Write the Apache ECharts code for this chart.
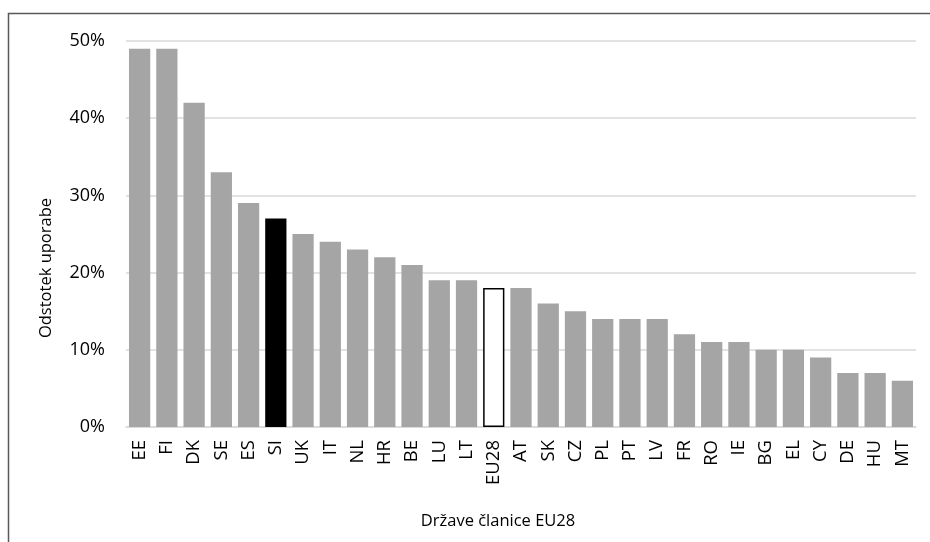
<!DOCTYPE html>
<html><head><meta charset="utf-8">
<script src="https://cdn.jsdelivr.net/npm/echarts@6/dist/echarts.min.js"></script>
<style>html,body{margin:0;padding:0;background:#fff}#c{width:930px;height:542px}</style>
</head><body><div id="c"></div>
<script>
const categories = ['EE','FI','DK','SE','ES','SI','UK','IT','NL','HR','BE','LU','LT','EU28','AT','SK','CZ','PL','PT','LV','FR','RO','IE','BG','EL','CY','DE','HU','MT'];
const values = [49,49,42,33,29,27,25,24,23,22,21,19,19,18,18,16,15,14,14,14,12,11,11,10,10,9,7,7,6];
const yTicks = [0,10,20,30,40,50];
const highlight = {SI:'black', EU28:'white'};
const xTitle = 'Države članice EU28';
const yTitle = 'Odstotek uporabe';

const FONT = '"Open Sans", sans-serif';
const data = values.map((v,i)=>{
  const c = categories[i];
  if (highlight[c]==='black') return {value:v,itemStyle:{color:'#000'}};
  if (highlight[c]==='white') return {value:v,itemStyle:{color:'#fff',borderColor:'#000',borderWidth:1.5}};
  return v;
});
const chart = echarts.init(document.getElementById('c'));
chart.setOption({
  animation:false,
  graphic:[
    {type:'rect',shape:{x:8.5,y:13.5,width:940,height:560},style:{fill:'none',stroke:'#595959',lineWidth:1.5}},
    {type:'text',x:498,y:521,style:{text:xTitle,font:'16.5px "Open Sans"',fill:'#000',textAlign:'center',textVerticalAlign:'middle'}},
    {type:'text',x:46,y:268,rotation:Math.PI/2,style:{text:yTitle,font:'16.5px "Open Sans"',fill:'#000',textAlign:'center',textVerticalAlign:'middle'}}
  ],
  grid:{left:126,right:14,top:41,bottom:115},
  xAxis:{type:'category',data:categories,
    axisLine:{lineStyle:{color:'#d9d9d9',width:1.5}},axisTick:{show:false},
    axisLabel:{rotate:90,color:'#000',fontFamily:FONT,fontSize:18.5,margin:13,interval:0}},
  yAxis:{type:'value',min:0,max:50,interval:10,
    splitLine:{lineStyle:{color:'#d9d9d9',width:1.5}},axisLine:{show:false},axisTick:{show:false},
    axisLabel:{formatter:v=>yTicks.includes(v)?v+'%':'',color:'#000',fontFamily:FONT,fontSize:18,margin:21}},
  series:[{type:'bar',data:data,barCategoryGap:'22%',itemStyle:{color:'#a5a5a5'}}]
});
</script></body></html>
